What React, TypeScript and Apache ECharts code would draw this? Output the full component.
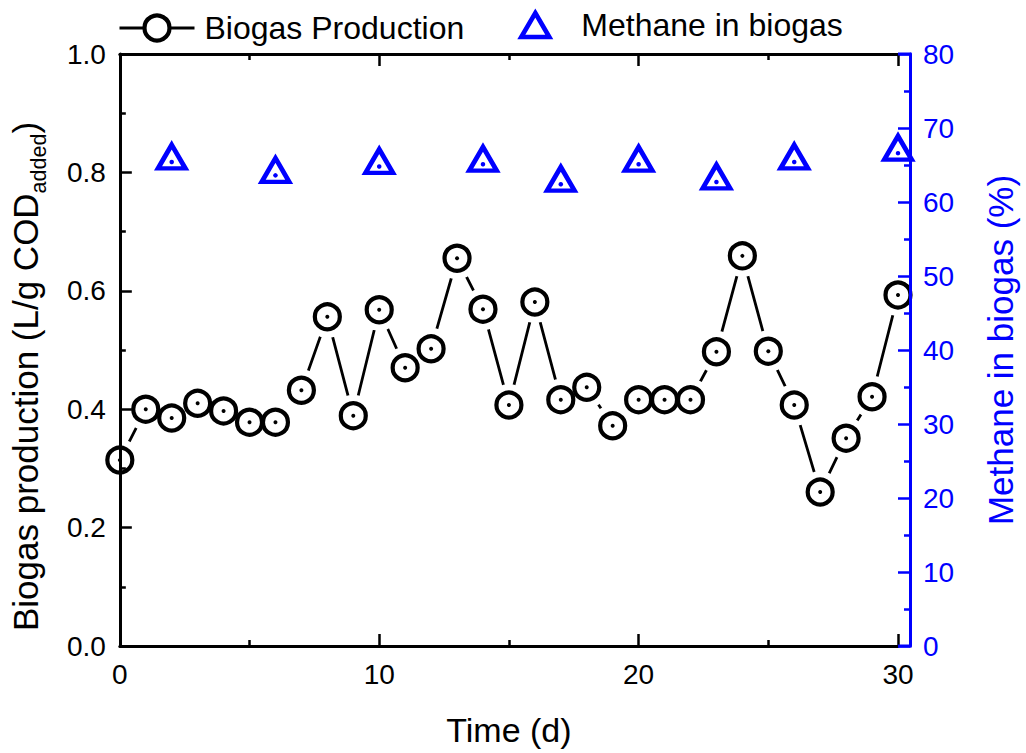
import React, { useEffect, useRef } from "react";
import * as echarts from "echarts";

const FONT = "'Liberation Sans', Arial, Helvetica, sans-serif";

// Biogas production (L/g COD added), one value per day
const days = [0, 1, 2, 3, 4, 5, 6, 7, 8, 9, 10, 11, 12, 13, 14, 15, 16, 17, 18, 19, 20, 21, 22, 23, 24, 25, 26, 27, 28, 29, 30];
const biogas = [0.314, 0.4, 0.385, 0.41, 0.397, 0.378, 0.378, 0.432, 0.556, 0.389, 0.568, 0.47, 0.502, 0.655, 0.569, 0.407, 0.581, 0.416, 0.437, 0.372, 0.416, 0.416, 0.416, 0.497, 0.659, 0.498, 0.407, 0.26, 0.351, 0.421, 0.593];

// Methane content in biogas (%)
const methaneDays = [2, 6, 10, 14, 17, 20, 23, 26, 30];
const methane = [65.4, 63.6, 64.8, 65.1, 62.4, 65.1, 62.7, 65.4, 66.6];

const xTicks = [0, 10, 20, 30];
const leftTicks = [0, 0.2, 0.4, 0.6, 0.8, 1.0];
const rightTicks = [0, 10, 20, 30, 40, 50, 60, 70, 80];

export default function App() {
  const ref = useRef<HTMLDivElement>(null);

  useEffect(() => {
    if (!ref.current) return;
    const chart = echarts.init(ref.current, null, { renderer: "svg" });

    const biogasData = days.map((d, i) => [d, biogas[i]]);
    const methaneData = methaneDays.map((d, i) => [d, methane[i]]);

    const black = "#000000";
    const blue = "#0000ff";

    const baseAxis = {
      axisLine: { show: true, onZero: false, lineStyle: { color: black, width: 3 } },
      axisTick: { show: true, inside: true, length: 12, lineStyle: { color: black, width: 2.5 } },
      minorTick: { show: true, splitNumber: 2, length: 6, lineStyle: { color: black, width: 2.5 } },
      splitLine: { show: false },
      minorSplitLine: { show: false },
      z: 10,
    };

    const ringStyle = { color: "#ffffff", borderColor: black, borderWidth: 4.2, opacity: 1 };
    const triStyle = { color: "rgba(0,0,0,0)", borderColor: blue, borderWidth: 4.6, borderJoin: "miter", opacity: 1 };

    chart.setOption({
      animation: false,
      backgroundColor: "#ffffff",
      textStyle: { fontFamily: FONT },
      grid: { left: 118, right: 127, top: 54, bottom: 107, containLabel: false },
      legend: [
        {
          left: 118,
          top: 12,
          padding: 0,
          itemWidth: 75,
          itemHeight: 31.25,
          selectedMode: false,
          lineStyle: { color: black, width: 3, opacity: 1 },
          itemStyle: ringStyle,
          textStyle: { fontSize: 32, color: black, fontFamily: FONT, padding: [0, 0, 3, 5] },
          data: ["Biogas Production"],
        },
        {
          left: 519,
          top: 9,
          padding: 0,
          itemWidth: 28,
          itemHeight: 24,
          symbolKeepAspect: false,
          selectedMode: false,
          itemStyle: triStyle,
          textStyle: { fontSize: 32, color: black, fontFamily: FONT, padding: [11, 0, 0, 27] },
          data: ["Methane in biogas"],
        },
      ],
      xAxis: [
        {
          ...baseAxis,
          type: "value",
          position: "bottom",
          min: xTicks[0],
          max: xTicks[xTicks.length - 1],
          interval: xTicks[1] - xTicks[0],
          axisLabel: { show: true, fontSize: 28, color: black, margin: 14, fontFamily: FONT },
          name: "Time (d)",
          nameLocation: "middle",
          nameGap: 67,
          nameTextStyle: { fontSize: 34, color: black, fontFamily: FONT },
        },
        {
          ...baseAxis,
          type: "value",
          position: "top",
          min: xTicks[0],
          max: xTicks[xTicks.length - 1],
          interval: xTicks[1] - xTicks[0],
          axisLabel: { show: false },
        },
      ],
      yAxis: [
        {
          ...baseAxis,
          type: "value",
          position: "left",
          min: leftTicks[0],
          max: leftTicks[leftTicks.length - 1],
          interval: 0.2,
          axisLabel: {
            show: true,
            fontSize: 28,
            color: black,
            margin: 14,
            fontFamily: FONT,
            formatter: (v: number) => v.toFixed(1),
          },
          name: "{a|Biogas production (L/g COD}{s|added}{a|)}",
          nameLocation: "middle",
          nameGap: 63,
          nameTextStyle: {
            fontSize: 35,
            color: black,
            fontFamily: FONT,
            padding: [0, 53, 0, 0],
            rich: {
              a: { fontSize: 35, color: black, fontFamily: FONT, lineHeight: 35, padding: [0, 0, 13, 0] },
              s: { fontSize: 21.5, color: black, fontFamily: FONT, lineHeight: 21.5, verticalAlign: "bottom" },
            },
          },
        },
        {
          type: "value",
          position: "right",
          offset: 12,
          min: rightTicks[0],
          max: rightTicks[rightTicks.length - 1],
          interval: 10,
          z: 10,
          axisLine: { show: true, onZero: false, lineStyle: { color: blue, width: 3 } },
          axisTick: { show: true, inside: true, length: 12, lineStyle: { color: blue, width: 2.5 } },
          minorTick: { show: true, splitNumber: 2, length: 6, lineStyle: { color: blue, width: 2.5 } },
          splitLine: { show: false },
          axisLabel: { show: true, fontSize: 28, color: blue, margin: 13, fontFamily: FONT },
          name: "Methane in biogas (%)",
          nameLocation: "middle",
          nameGap: 73,
          nameTextStyle: { fontSize: 35, color: blue, fontFamily: FONT },
        },
      ],
      series: [
        {
          name: "bgLine",
          type: "line",
          xAxisIndex: 0,
          yAxisIndex: 0,
          data: biogasData,
          symbol: "none",
          showSymbol: false,
          silent: true,
          clip: false,
          lineStyle: { color: black, width: 2.8 },
          z: 2,
        },
        {
          name: "bgHalo",
          type: "scatter",
          xAxisIndex: 0,
          yAxisIndex: 0,
          data: biogasData,
          symbol: "circle",
          symbolSize: 42,
          silent: true,
          clip: false,
          itemStyle: { color: "#ffffff", opacity: 1 },
          z: 2,
        },
        {
          name: "Biogas Production",
          type: "line",
          xAxisIndex: 0,
          yAxisIndex: 0,
          data: biogasData,
          symbol: "circle",
          showSymbol: true,
          showAllSymbol: true,
          symbolSize: 25,
          clip: false,
          lineStyle: { width: 0, opacity: 0 },
          itemStyle: ringStyle,
          z: 3,
        },
        {
          name: "bgDot",
          type: "scatter",
          xAxisIndex: 0,
          yAxisIndex: 0,
          data: biogasData,
          symbol: "circle",
          symbolSize: 4,
          silent: true,
          clip: false,
          itemStyle: { color: black, opacity: 1 },
          z: 4,
        },
        {
          name: "Methane in biogas",
          type: "scatter",
          xAxisIndex: 0,
          yAxisIndex: 1,
          data: methaneData,
          symbol: "triangle",
          symbolSize: [27.4, 23.6],
          symbolOffset: [0, -5.4],
          clip: false,
          itemStyle: triStyle,
          z: 3,
        },
        {
          name: "chDot",
          type: "scatter",
          xAxisIndex: 0,
          yAxisIndex: 1,
          data: methaneData,
          symbol: "circle",
          symbolSize: 4.5,
          silent: true,
          clip: false,
          itemStyle: { color: blue, opacity: 1 },
          z: 4,
        },
      ],
    });

    // connectors from the plot frame to the offset right (blue) axis
    const xr = chart.convertToPixel({ xAxisIndex: 0 }, xTicks[xTicks.length - 1]) as number;
    const yt = chart.convertToPixel({ yAxisIndex: 0 }, leftTicks[leftTicks.length - 1]) as number;
    const yb = chart.convertToPixel({ yAxisIndex: 0 }, leftTicks[0]) as number;
    chart.setOption({
      graphic: [
        { type: "line", z: 11, shape: { x1: xr, y1: yt, x2: xr + 13.5, y2: yt }, style: { stroke: blue, lineWidth: 3 } },
        { type: "line", z: 11, shape: { x1: xr, y1: yb, x2: xr + 13.5, y2: yb }, style: { stroke: blue, lineWidth: 3 } },
      ],
    });

    return () => chart.dispose();
  }, []);

  return (
    <div
      ref={ref}
      style={{ position: "fixed", left: 0, top: 0, width: 1026, height: 753, background: "#ffffff" }}
    />
  );
}
